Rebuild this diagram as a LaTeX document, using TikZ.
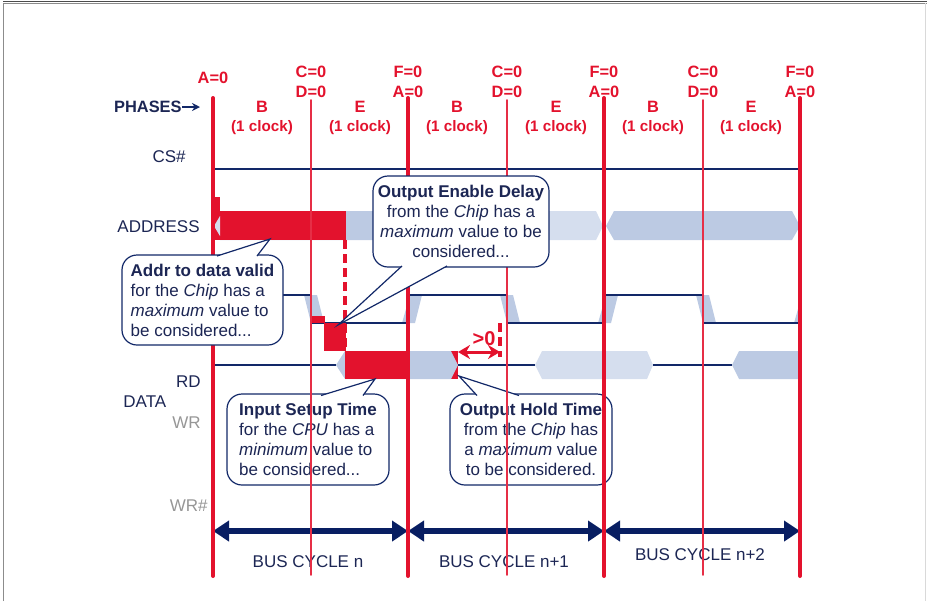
\documentclass[tikz,border=0pt]{standalone}
\usepackage{fontspec}
\setmainfont{Liberation Sans}
\usepackage{tkz-euclide}
\usetikzlibrary{arrows.meta,calc}

\definecolor{phasered}{RGB}{227,18,45}
\definecolor{navytext}{RGB}{28,38,84}
\definecolor{sigblue}{RGB}{18,40,104}
\definecolor{busnavy}{RGB}{8,30,98}
\definecolor{midblue}{RGB}{188,202,227}
\definecolor{paleblue}{RGB}{213,222,238}
\definecolor{wrgray}{RGB}{150,150,150}

\newcommand{\sigfont}{\fontsize{8.5}{10}\selectfont}
\newcommand{\hdrfont}{\bfseries\fontsize{8.2}{9}\selectfont}
\newcommand{\clkfont}{\bfseries\fontsize{7.6}{9}\selectfont}

\tikzset{
  hdrlabel/.style={text=phasered,font=\hdrfont,inner sep=0pt},
  clklabel/.style={text=phasered,font=\clkfont,inner sep=0pt},
  siglabel/.style={text=navytext,font=\sigfont,inner sep=0pt},
  wrlabel/.style={text=wrgray,font=\sigfont,inner sep=0pt},
  sigline/.style={draw=sigblue,line width=0.7pt},
  redline/.style={color=phasered,line width=2pt},
  thinred/.style={color=phasered!88!white,line width=0.8pt},
  reddash/.style={draw=phasered,line width=1.6pt,dash pattern=on 4.5pt off 2.5pt},
  callbox/.style={draw=sigblue,fill=white,line width=0.6pt,rounded corners=7.5pt,
    inner sep=0pt,text=navytext,font=\sigfont},
  pointer/.style={draw=sigblue,line width=0.6pt},
  busarrow/.style={draw=busnavy,line width=3pt,
    {Triangle[length=8pt,width=10pt]}-{Triangle[length=8pt,width=10pt]}},
}

\begin{document}
\begin{tikzpicture}[x=0.5pt,y=-0.5pt]
\useasboundingbox (0,0) rectangle (927,601);

% frame
\draw[black!45,line width=0.5pt] (3,601) -- (3,3) -- (927,3);
\draw[black!70,line width=0.5pt] (3,1.5) -- (927,1.5);
\draw[black!15,line width=0.5pt] (925.5,3) -- (925.5,601);

% phase labels
\node[hdrlabel] (hA1) at (213,78) {A=0};
\node[hdrlabel] (hC1) at (311,72) {C=0};
\node[hdrlabel] (hD1) at (311,92) {D=0};
\node[hdrlabel] (hF1) at (408,72) {F=0};
\node[hdrlabel] (hA2) at (408,92) {A=0};
\node[hdrlabel] (hC2) at (507,72) {C=0};
\node[hdrlabel] (hD2) at (507,92) {D=0};
\node[hdrlabel] (hF2) at (604,72) {F=0};
\node[hdrlabel] (hA3) at (604,92) {A=0};
\node[hdrlabel] (hC3) at (703,72) {C=0};
\node[hdrlabel] (hD3) at (703,92) {D=0};
\node[hdrlabel] (hF3) at (800,72) {F=0};
\node[hdrlabel] (hA4) at (800,92) {A=0};

\node[hdrlabel] (pB1) at (262,107) {B};
\node[clklabel] (kB1) at (262,128) {(1 clock)};
\node[hdrlabel] (pE1) at (360,107) {E};
\node[clklabel] (kE1) at (360,128) {(1 clock)};
\node[hdrlabel] (pB2) at (457,107) {B};
\node[clklabel] (kB2) at (457,128) {(1 clock)};
\node[hdrlabel] (pE2) at (556,107) {E};
\node[clklabel] (kE2) at (556,128) {(1 clock)};
\node[hdrlabel] (pB3) at (653,107) {B};
\node[clklabel] (kB3) at (653,128) {(1 clock)};
\node[hdrlabel] (pE3) at (751,107) {E};
\node[clklabel] (kE3) at (751,128) {(1 clock)};

\node[hdrlabel,text=navytext,anchor=east] (phases) at (182,107) {PHASES};
\coordinate (phasetip) at (200,107);
\draw[sigblue,line width=0.8pt,-{Stealth[length=4pt,width=4pt]}] (phases.east) -- (phasetip);

% signal names
\node[siglabel,anchor=east] (lCS) at (186,157) {CS\#};
\node[siglabel,anchor=east] (lADDR) at (200,227) {ADDRESS};
\node[siglabel,anchor=east] (lRD) at (201,382) {RD};
\node[siglabel,anchor=west] (lDATA) at (123,402) {DATA};
\node[wrlabel,anchor=east] (lWR) at (201,423) {WR};
\node[wrlabel,anchor=east] (lWRn) at (208,506) {WR\#};

% CS#
\tkzDefPoint(213,140){csA}
\tkzDefPoint(213,169){csB}
\tkzDefPoint(800,169){csC}
\draw[sigline] (csA) -- (csB) -- (csC);

% ADDRESS
\fill[midblue] (213,226) -- (220,211) -- (408,211) -- (408,240) -- (220,240) -- cycle;
\fill[paleblue] (408,211) -- (596,211) -- (603,226) -- (596,240) -- (408,240) -- cycle;
\fill[midblue] (606,226) -- (614,211) -- (792,211) -- (800,226) -- (792,240) -- (614,240) -- cycle;
\fill[phasered] (213,211) rectangle (346,240);
\fill[phasered] (213,197) rectangle (220,211);
\fill[paleblue] (214,226) -- (220,216) -- (220,236) -- cycle;

% RD
\fill[midblue] (304,295) -- (317,295) -- (324,323) -- (311,323) -- cycle;
\fill[midblue] (402,323) -- (415,323) -- (422,295) -- (410,295) -- cycle;
\fill[midblue] (500,295) -- (513,295) -- (520,323) -- (507,323) -- cycle;
\fill[midblue] (598,323) -- (611,323) -- (618,295) -- (606,295) -- cycle;
\fill[midblue] (696,295) -- (709,295) -- (716,323) -- (703,323) -- cycle;
\fill[midblue] (794,323) -- (800,323) -- (800,302) -- cycle;
\draw[sigline] (213,295) -- (311,295);
\draw[sigline] (311,323) -- (408,323);
\draw[sigline] (408,295) -- (507,295);
\draw[sigline] (507,323) -- (604,323);
\draw[sigline] (604,295) -- (703,295);
\draw[sigline] (703,323) -- (800,323);
\fill[phasered] (311,316) rectangle (325,323);
\fill[phasered] (324,323) rectangle (346,351);

% DATA
\draw[sigline] (213,365) -- (336,365);
\fill[phasered] (451,351) rectangle (458,379);
\fill[midblue] (336,365) -- (345,351) -- (451,351) -- (458,365) -- (451,379) -- (345,379) -- cycle;
\fill[phasered] (345,351) rectangle (408,379);
\draw[sigline] (458,365) -- (535,365);
\fill[paleblue] (535,365) -- (542,351) -- (647,351) -- (653,365) -- (647,379) -- (542,379) -- cycle;
\draw[sigline] (653,365) -- (732,365);
\fill[midblue] (732,365) -- (739,351) -- (800,351) -- (800,379) -- (739,379) -- cycle;

% hold time
\coordinate (holdA) at (458,352);
\coordinate (holdB) at (500,352);
\draw[phasered,line width=1.5pt,{Stealth[length=6pt,width=7pt]}-{Stealth[length=6pt,width=7pt]}] (holdA) -- (holdB);
\node[hdrlabel,font=\bfseries\fontsize{10}{11}\selectfont] (gt0) at (484,339) {>0};

% bus cycles
\coordinate (bus1) at (213,531);
\coordinate (bus2) at (408,531);
\coordinate (bus3) at (604,531);
\coordinate (bus4) at (800,531);
\draw[busarrow] (bus1) -- (bus2);
\draw[busarrow] (bus2) -- (bus3);
\draw[busarrow] (bus3) -- (bus4);
\node[siglabel] (bc1) at (308,562) {BUS CYCLE n};
\node[siglabel] (bc2) at (504,562) {BUS CYCLE n+1};
\node[siglabel] (bc3) at (700,555) {BUS CYCLE n+2};

% lower callouts
\node[callbox,minimum width=81pt,minimum height=45.5pt,align=left] (istc) at (308,439.5)
  {\textbf{Input Setup Time}\\for the \textit{CPU} has a\\\textit{minimum} value to\\be considered...};
\coordinate (istA) at (321,395.5);
\coordinate (istT) at (375,379);
\coordinate (istB) at (363,395.5);
\fill[white] (istA) -- (istT) -- (istB) -- cycle;
\draw[pointer] (istA) -- (istT) -- (istB);

\node[callbox,minimum width=81pt,minimum height=45.5pt,align=center] (ohtc) at (531,439.5)
  {\textbf{Output Hold Time}\\from the \textit{Chip} has\\a \textit{maximum} value\\to be considered.};
\coordinate (ohtA) at (477,395.5);
\coordinate (ohtT) at (459,376);
\coordinate (ohtB) at (519,395.5);
\fill[white] (ohtA) -- (ohtT) -- (ohtB) -- cycle;
\draw[pointer] (ohtA) -- (ohtT) -- (ohtB);

% phase boundaries
\tkzDefPoint(213,98){t1}
\tkzDefPoint(213,576){b1}
\tkzDefPoint(311,100){t2}
\tkzDefPoint(311,575){b2}
\tkzDefPoint(408,98){t3}
\tkzDefPoint(408,576){b3}
\tkzDefPoint(507,100){t4}
\tkzDefPoint(507,575){b4}
\tkzDefPoint(604,98){t5}
\tkzDefPoint(604,576){b5}
\tkzDefPoint(703,100){t6}
\tkzDefPoint(703,575){b6}
\tkzDefPoint(800,98){t7}
\tkzDefPoint(800,576){b7}
\tkzDrawSegment[redline](t1,b1)
\tkzDrawSegment[thinred](t2,b2)
\tkzDrawSegment[redline](t3,b3)
\tkzDrawSegment[thinred](t4,b4)
\tkzDrawSegment[redline](t5,b5)
\tkzDrawSegment[thinred](t6,b6)
\tkzDrawSegment[redline](t7,b7)

\coordinate (oeA) at (345,240);
\coordinate (oeB) at (345,351);
\draw[reddash] (oeA) -- (oeB);
\coordinate (hdA) at (500,323);
\coordinate (hdB) at (500,357);
\draw[reddash] (hdA) -- (hdB);

% upper callouts
\node[callbox,minimum width=80.5pt,minimum height=45pt,align=left] (addrc) at (202.5,300)
  {\textbf{Addr to data valid}\\for the \textit{Chip} has a\\\textit{maximum} value to\\be considered...};
\coordinate (addrA) at (217,256);
\coordinate (addrT) at (270,239);
\coordinate (addrB) at (257,256);
\fill[white] (addrA) -- (addrT) -- (addrB) -- cycle;
\draw[pointer] (addrA) -- (addrT) -- (addrB);

\node[callbox,minimum width=88pt,minimum height=45.5pt,align=center] (oedc) at (461,221.5)
  {\textbf{Output Enable Delay}\\from the \textit{Chip} has a\\\textit{maximum} value to be\\considered...};
\coordinate (oedA) at (402,266);
\coordinate (oedT) at (338,325);
\coordinate (oedB) at (447,266);
\fill[white] (oedA) -- (oedT) -- (oedB) -- cycle;
\draw[pointer] (oedA) -- (oedT) -- (oedB);

\end{tikzpicture}
\end{document}
